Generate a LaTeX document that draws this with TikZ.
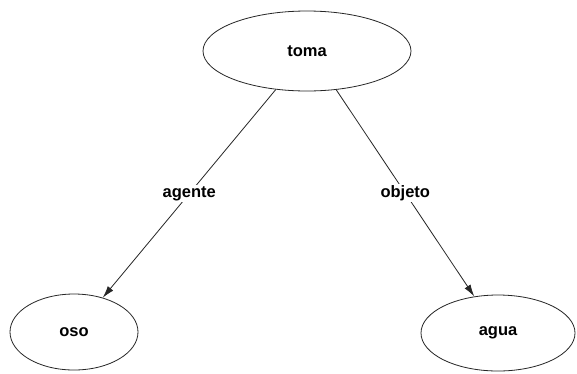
\documentclass[tikz,border=0pt]{standalone}
\usepackage{fontspec}
\setmainfont{Liberation Sans}
\usetikzlibrary{shapes.geometric,arrows.meta}
\begin{document}
\begin{tikzpicture}[x=1pt,y=-1pt,
  concept/.style={draw=black!85, ellipse, line width=0.8pt, inner sep=0pt, font=\fontsize{16.5}{19}\selectfont\bfseries},
  rel/.style={draw=black!85, line width=0.8pt, -{Latex[length=12pt,width=7pt]}},
  lbl/.style={fill=white, inner sep=1.5pt, font=\fontsize{16.5}{19}\selectfont\bfseries}]
\useasboundingbox[fill=white] (0,0) rectangle (577,373);
\node[concept, minimum width=208pt, minimum height=80pt] (toma) at (307,51) {toma};
\node[concept, minimum width=128pt, minimum height=76pt] (oso) at (74,332) {oso};
\node[concept, minimum width=154pt, minimum height=76pt] (agua) at (498,333) {agua};
\draw[rel] (toma.231) -- node[lbl, pos=0.5] {agente} (oso.50);
\draw[rel] (toma.307) -- node[lbl, pos=0.5] {objeto} (agua.123);
\end{tikzpicture}
\end{document}
